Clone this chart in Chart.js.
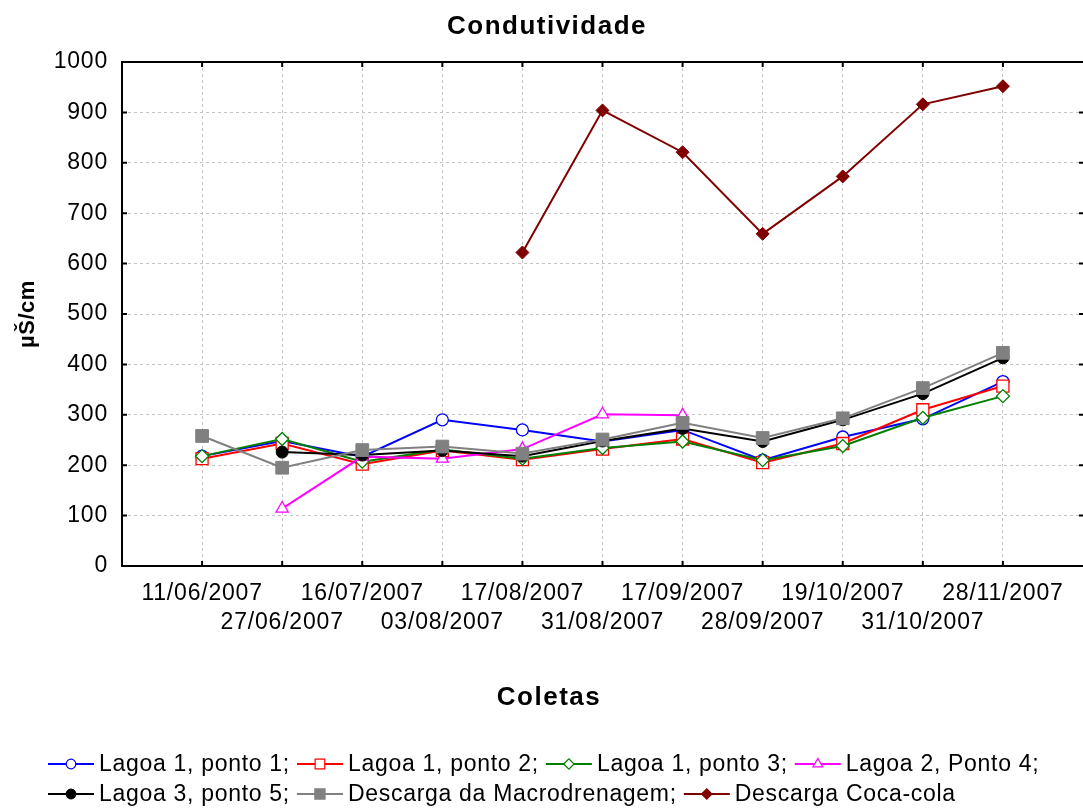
<!DOCTYPE html>
<html>
<head>
<meta charset="utf-8">
<script src="https://cdn.jsdelivr.net/npm/chart.js@4.4.1/dist/chart.umd.min.js"></script>
<style>
  html, body { margin: 0; padding: 0; background: #fff; }
  canvas { display: block; }
</style>
</head>
<body>
<canvas id="chart" width="1083" height="811"></canvas>
<script>
// Condutividade – coletas 2007

const dates = ['11/06/2007', '27/06/2007', '16/07/2007', '03/08/2007', '17/08/2007', '31/08/2007',
  '17/09/2007', '28/09/2007', '19/10/2007', '31/10/2007', '28/11/2007'];

const yTicks = [0, 100, 200, 300, 400, 500, 600, 700, 800, 900, 1000];

const lagoa1Ponto1 = [218, 248, 217, 290, 270, 247, 270, 210, 256, 292, 366];
const lagoa1Ponto2 = [213, 243, 202, 229, 211, 232, 252, 205, 243, 310, 357];
const lagoa1Ponto3 = [218, 252, 207, 231, 213, 234, 247, 210, 238, 294, 337];
const lagoa2Ponto4 = [null, 114, 217, 213, 232, 301, 299, null, null, null, null];
const lagoa3Ponto5 = [null, 226, 220, 229, 218, 248, 273, 247, 290, 342, 413];
const macrodrenagem = [258, 195, 230, 237, 223, 251, 284, 254, 293, 353, 423];
const cocaCola = [null, null, null, null, 622, 904, 821, 659, 773, 916, 952];

const FONT = "'Liberation Sans', Arial, sans-serif";

const series = [
  { label: 'Lagoa 1, ponto 1;', data: lagoa1Ponto1, color: '#0000ff', style: 'circle', r: 6, filled: false },
  { label: 'Lagoa 1, ponto 2;', data: lagoa1Ponto2, color: '#ff0000', style: 'rect', r: 8.5, filled: false },
  { label: 'Lagoa 1, ponto 3;', data: lagoa1Ponto3, color: '#008000', style: 'rectRot', r: 6.5, filled: false },
  { label: 'Lagoa 2, Ponto 4;', data: lagoa2Ponto4, color: '#ff00ff', style: 'triangle', r: 7, filled: false },
  { label: 'Lagoa 3, ponto 5;', data: lagoa3Ponto5, color: '#000000', style: 'circle', r: 6, filled: true },
  { label: 'Descarga da Macrodrenagem;', data: macrodrenagem, color: '#808080', style: 'rect', r: 9, filled: true },
  { label: 'Descarga Coca-cola', data: cocaCola, color: '#800000', style: 'rectRot', r: 6.5, filled: true }
];

const datasets = series.map((s, i) => ({
  label: s.label,
  data: s.data.map((v, idx) => ({ x: idx, y: v })),
  borderColor: s.color,
  backgroundColor: s.color,
  borderWidth: 2,
  pointStyle: s.style,
  pointRadius: s.r,
  pointHoverRadius: s.r,
  pointBorderWidth: s.filled ? 1 : 1.3,
  pointBorderColor: s.color,
  pointBackgroundColor: s.filled ? s.color : '#ffffff',
  tension: 0,
  spanGaps: false,
  order: series.length - i // later series drawn on top
}));

// marker for the legend, same shapes as the chart points
function drawMarker(ctx, s, x, y, r) {
  ctx.beginPath();
  if (s.style === 'circle') {
    ctx.arc(x, y, r, 0, Math.PI * 2);
  } else if (s.style === 'rect') {
    const h = r * Math.SQRT1_2;
    ctx.rect(x - h, y - h, 2 * h, 2 * h);
  } else if (s.style === 'rectRot') {
    ctx.moveTo(x - r, y); ctx.lineTo(x, y - r); ctx.lineTo(x + r, y); ctx.lineTo(x, y + r);
  } else if (s.style === 'triangle') {
    ctx.moveTo(x, y - r);
    ctx.lineTo(x + r * Math.sin(2 * Math.PI / 3), y - r * Math.cos(2 * Math.PI / 3));
    ctx.lineTo(x + r * Math.sin(4 * Math.PI / 3), y - r * Math.cos(4 * Math.PI / 3));
  }
  ctx.closePath();
  ctx.fillStyle = s.filled ? s.color : '#ffffff';
  ctx.fill();
  ctx.lineWidth = 1.2;
  ctx.strokeStyle = s.color;
  ctx.stroke();
}

const decorPlugin = {
  id: 'decor',
  beforeDraw(chart) {
    // the original labels are a little wider than Arial
    chart.ctx.letterSpacing = '0.8px';
  },
  afterDraw(chart) {
    const { ctx, chartArea: a, scales } = chart;
    ctx.save();

    // frame (left, top, bottom) and inward tick marks
    ctx.strokeStyle = '#000';
    ctx.lineWidth = 2;
    ctx.beginPath();
    ctx.moveTo(a.right, a.top); ctx.lineTo(a.left, a.top);
    ctx.lineTo(a.left, a.bottom); ctx.lineTo(a.right, a.bottom);
    ctx.stroke();

    ctx.beginPath();
    dates.forEach((d, i) => {
      const px = scales.x.getPixelForValue(i);
      ctx.moveTo(px, a.bottom); ctx.lineTo(px, a.bottom - 5);
      ctx.moveTo(px, a.top); ctx.lineTo(px, a.top + 5);
    });
    yTicks.forEach(v => {
      const py = scales.y.getPixelForValue(v);
      ctx.moveTo(a.left, py); ctx.lineTo(a.left + 5, py);
      ctx.moveTo(a.right, py); ctx.lineTo(a.right - 4, py);
    });
    ctx.stroke();

    // titles
    ctx.fillStyle = '#000';
    ctx.textAlign = 'center';
    ctx.textBaseline = 'middle';
    ctx.font = `bold 26px ${FONT}`;
    ctx.letterSpacing = '1.5px';
    ctx.fillText('Condutividade', 547, 27);
    ctx.fillText('Coletas', 549, 698);

    ctx.font = `bold 22px ${FONT}`;
    ctx.letterSpacing = '0.5px';
    ctx.save();
    ctx.translate(28, (a.top + a.bottom) / 2);
    ctx.rotate(-Math.PI / 2);
    ctx.fillText('µŠ/cm', 0, 0);
    ctx.restore();

    // legend: two rows, line + marker then label
    ctx.font = `23px ${FONT}`;
    ctx.letterSpacing = '0.7px';
    ctx.textAlign = 'left';
    const rows = [[0, 1, 2, 3], [4, 5, 6]];
    const rowY = [764, 794];
    rows.forEach((row, ri) => {
      let x = 48;
      const y = rowY[ri];
      row.forEach(i => {
        const s = series[i];
        ctx.strokeStyle = s.color;
        ctx.lineWidth = 2;
        ctx.beginPath();
        ctx.moveTo(x, y); ctx.lineTo(x + 46, y);
        ctx.stroke();
        drawMarker(ctx, s, x + 23, y, s.r * 0.8);
        x += 46 + 5;
        ctx.fillStyle = '#000';
        ctx.fillText(s.label, x, y + 1);
        x += ctx.measureText(s.label).width + 7;
      });
    });

    ctx.restore();
  }
};

new Chart(document.getElementById('chart'), {
  type: 'line',
  data: { datasets },
  options: {
    responsive: false,
    animation: false,
    devicePixelRatio: 1,
    layout: { autoPadding: false, padding: { top: 62, right: 0, bottom: 0, left: 0 } },
    plugins: {
      legend: { display: false },
      title: { display: false },
      tooltip: { enabled: false }
    },
    scales: {
      x: {
        type: 'linear',
        min: -1,
        max: 11,
        afterFit: (scale) => {
          scale.height = 245;
          scale.paddingLeft = 0;
          scale.paddingRight = 0;
        },
        afterBuildTicks: (scale) => {
          const t = [];
          for (let v = -1; v <= 11; v++) t.push({ value: v });
          scale.ticks = t;
        },
        grid: { color: '#c4c4c4', lineWidth: 1, drawTicks: false },
        border: { display: false, dash: [3, 3] },
        ticks: {
          autoSkip: false,
          maxRotation: 0,
          padding: 13,
          color: '#000',
          font: { family: FONT, size: 23, lineHeight: 1.26 },
          callback: (v) => {
            const label = dates[v];
            if (!label) return '';
            return v % 2 === 0 ? [label, ''] : ['', label];
          }
        }
      },
      y: {
        min: 0,
        max: 1000,
        afterFit: (scale) => { scale.width = 122; },
        grid: { color: '#c4c4c4', lineWidth: 1, drawTicks: false },
        border: { display: false, dash: [3, 3] },
        ticks: {
          stepSize: 100,
          padding: 14,
          color: '#000',
          font: { family: FONT, size: 23 },
          callback: (v) => String(v)
        }
      }
    }
  },
  plugins: [decorPlugin]
});
</script>
</body>
</html>
